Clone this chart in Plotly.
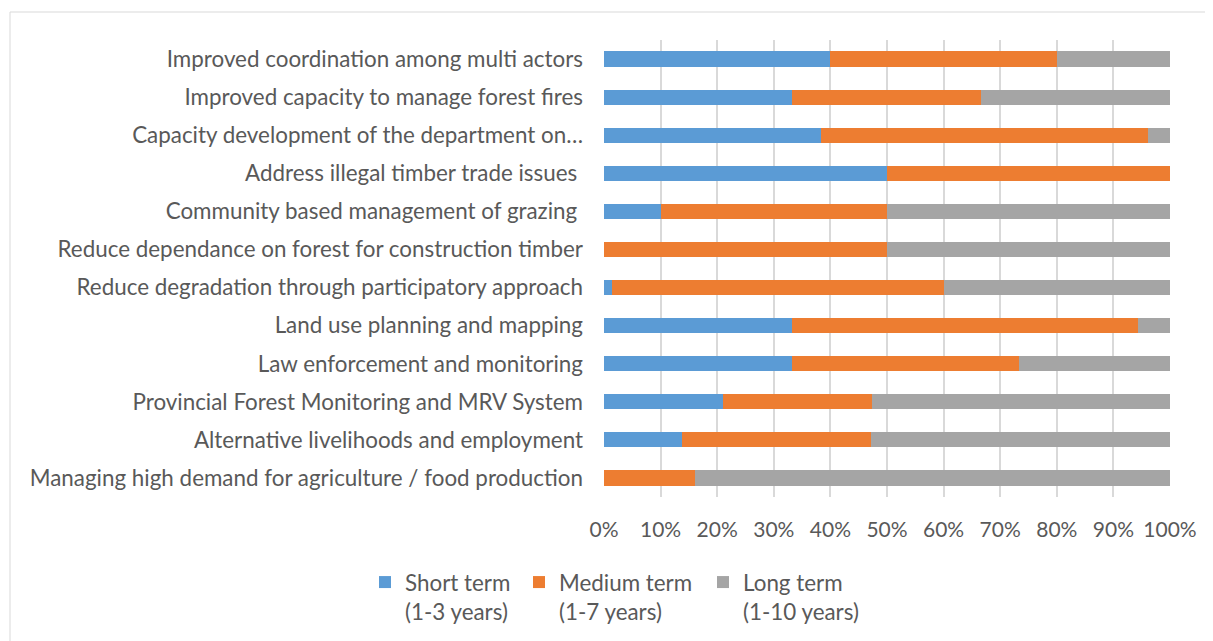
import plotly.graph_objects as go

categories = [
    "Improved coordination among multi actors",
    "Improved capacity to manage forest fires",
    "Capacity development of the department on…",
    "Address illegal timber trade issues\u00a0",
    "Community based management of grazing\u00a0",
    "Reduce dependance on forest for construction timber",
    "Reduce degradation through participatory approach",
    "Land use planning and mapping",
    "Law enforcement and monitoring",
    "Provincial Forest Monitoring and MRV System",
    "Alternative livelihoods and employment",
    "Managing high demand for agriculture / food production",
]
short_term = [40.0, 33.3, 38.3, 50.0, 10.0, 0.0, 1.5, 33.3, 33.3, 21.0, 13.8, 0.0]
medium_term = [40.0, 33.3, 57.9, 50.0, 40.0, 50.0, 58.5, 61.1, 40.0, 26.3, 33.4, 16.0]
long_term = [20.0, 33.4, 3.8, 0.0, 50.0, 50.0, 40.0, 5.6, 26.7, 52.7, 52.8, 84.0]
series_names = ["Short term<br>(1-3 years)", "Medium term<br>(1-7 years)", "Long term<br>(1-10 years)"]
colors = ["#5B9BD5", "#ED7D31", "#A5A5A5"]
x_ticks = [0, 10, 20, 30, 40, 50, 60, 70, 80, 90, 100]

# page offset (body margin) of 8px
OFF = 8
W, H = 1213, 641
L = 604 - OFF
T = 40 - OFF
R = W - (1170 - OFF)
B = H - (497 - OFF)
pw, ph = W - L - R, H - T - B

def px_x(p):
    return (p - OFF - L) / pw

def px_y(p):
    return (H - B - (p - OFF)) / ph

legend_text_x = [406, 560, 744]
legend_keys = ["legend", "legend2", "legend3"]

fig = go.Figure()
for name, vals, col, lk in zip(series_names, [short_term, medium_term, long_term], colors, legend_keys):
    fig.add_trace(go.Bar(
        y=categories, x=vals, name=name, orientation="h",
        marker=dict(color=col, line=dict(width=0)),
        legend=lk, showlegend=True,
    ))

legend_common = dict(
    orientation="h", yanchor="top", valign="top", xanchor="left",
    font=dict(size=22.4, color="#595959", family="Lato, Open Sans, sans-serif"),
    itemwidth=30, bgcolor="rgba(0,0,0,0)", visible=True,
)

layout_legends = {}
for lk, tx in zip(legend_keys, legend_text_x):
    d = dict(legend_common)
    d["x"] = px_x(tx - 41)
    d["y"] = px_y(561)
    layout_legends[lk] = d

fig.update_layout(
    width=W, height=H, showlegend=True,
    barmode="stack", bargap=0.6,
    margin=dict(l=L, r=R, t=T, b=B, autoexpand=False),
    paper_bgcolor="white", plot_bgcolor="white",
    font=dict(family="Lato, Open Sans, sans-serif", size=22.4, color="#595959"),
    xaxis=dict(
        range=[0, 100], tickvals=x_ticks,
        ticktext=[f"{v}%" for v in x_ticks],
        showgrid=True, gridcolor="#D9D9D9", gridwidth=1.5,
        zeroline=False, showline=False, ticks="",
        ticklabelstandoff=18, tickfont=dict(size=21),
    ),
    yaxis=dict(
        autorange="reversed", showgrid=False, zeroline=False,
        ticks="", ticklabelstandoff=20,
    ),
    shapes=[dict(
        type="rect", xref="paper", yref="paper",
        x0=px_x(10), x1=px_x(1209), y0=px_y(660), y1=px_y(12),
        line=dict(color="#D9D9D9", width=1), fillcolor="rgba(0,0,0,0)", layer="below",
    )],
    **layout_legends,
)

fig.write_html("out.html")
